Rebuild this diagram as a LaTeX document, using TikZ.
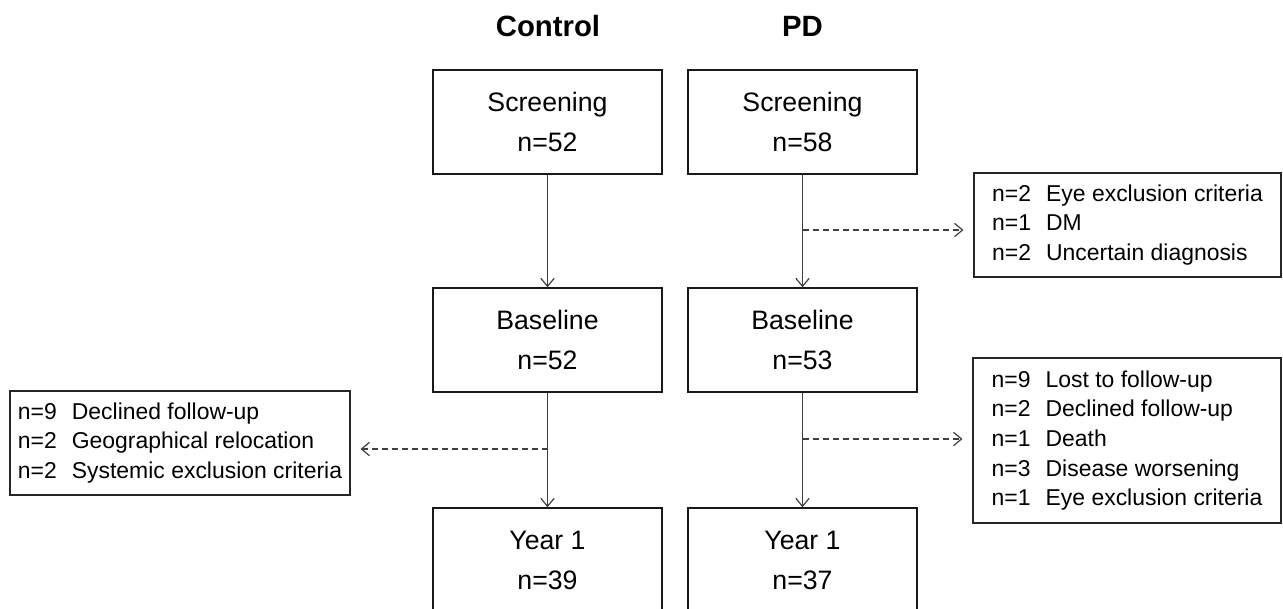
\documentclass[tikz,border=0pt]{standalone}
\usepackage{fontspec}
\setmainfont{Liberation Sans}
\usetikzlibrary{arrows.meta}
\begin{document}
\begin{tikzpicture}[x=0.75pt,y=-0.75pt,
  stage/.style={draw=black!90,line width=1.1pt,inner sep=0pt,minimum width=171.75pt,minimum height=78pt,
     align=center,font=\fontsize{20}{30}\selectfont},
  excl/.style={draw=black!85,line width=0.8pt,inner sep=0pt,align=left,font=\fontsize{17.2}{22.2}\selectfont},
  title/.style={font=\fontsize{22}{26}\selectfont\bfseries,anchor=base},
  flow/.style={draw=black!75,line width=0.9pt,-{Straight Barb[length=6pt,width=10pt,line width=0.9pt]}},
  drop/.style={flow,dash pattern=on 4.5pt off 3pt,shorten >=7.5pt}]
\useasboundingbox (0,0) rectangle (1283,608);
\clip (0,0) rectangle (1283,608);
\fill[white] (0,0) rectangle (1283,608);
\newcommand{\nn}[1]{\makebox[40.5pt][l]{#1}}
% titles
\node[title] (tc) at (548,36) {Control};
\node[title] (tp) at (802.5,36) {PD};
% stage boxes
\node[stage] (cs) at (547.5,122) {Screening\\n=52};
\node[stage] (ps) at (802.5,122) {Screening\\n=58};
\node[stage] (cb) at (547.5,340) {Baseline\\n=52};
\node[stage] (pb) at (802.5,340) {Baseline\\n=53};
\node[stage] (cy) at (547.5,560) {Year 1\\n=39};
\node[stage] (py) at (802.5,560) {Year 1\\n=37};
% exclusion boxes
\node[excl,minimum width=230.25pt,minimum height=78pt] (e1) at (1127.5,225)
  {\nn{n=2}Eye exclusion criteria\\\nn{n=1}DM\\\nn{n=2}Uncertain diagnosis};
\node[excl,minimum width=255pt,minimum height=78pt] (e2) at (180,443)
  {\nn{n=9}Declined follow-up\\\nn{n=2}Geographical relocation\\\nn{n=2}Systemic exclusion criteria};
\node[excl,minimum width=231pt,minimum height=123.75pt] (e3) at (1127,440.5)
  {\nn{n=9}Lost to follow-up\\\nn{n=2}Declined follow-up\\\nn{n=1}Death\\\nn{n=3}Disease worsening\\\nn{n=1}Eye exclusion criteria};
% flow arrows
\draw[flow] (cs) -- (cb);
\draw[flow] (ps) -- (pb);
\draw[flow] (cb) -- (cy);
\draw[flow] (pb) -- (py);
% branch points
\coordinate (d1) at (802.5,230);
\coordinate (d2) at (547.5,449);
\coordinate (d3) at (802.5,439);
\draw[drop] (d1) -- (d1 -| e1.west);
\draw[drop] (d2) -- (d2 -| e2.east);
\draw[drop] (d3) -- (d3 -| e3.west);
\end{tikzpicture}
\end{document}
